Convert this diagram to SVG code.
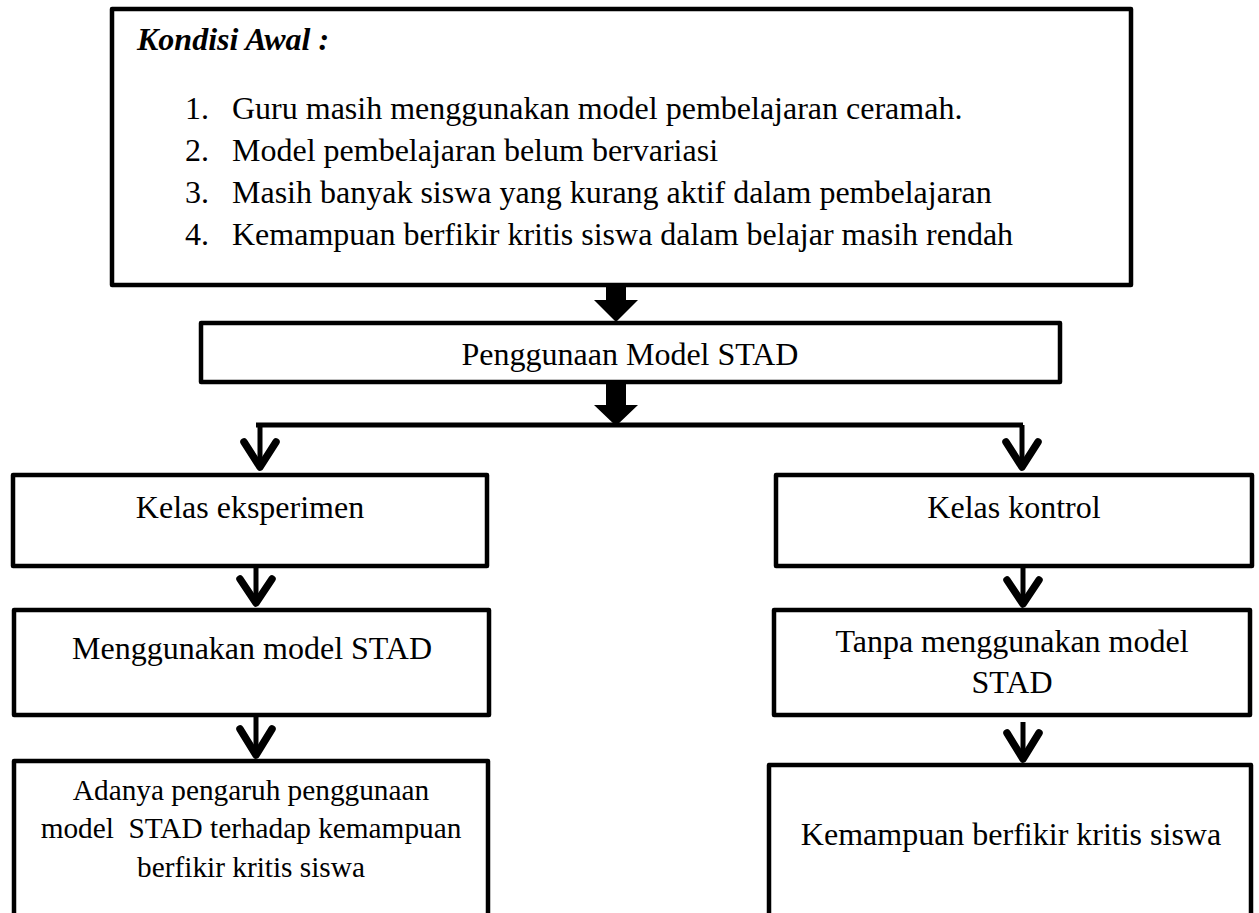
<svg xmlns="http://www.w3.org/2000/svg" width="1259" height="913" viewBox="0 0 1259 913">
<style>
.box{fill:#fff;stroke:#000;stroke-width:4.5;stroke-linejoin:round}
.t{font-family:"Liberation Serif","Times New Roman",serif;font-size:32px;fill:#000}
.s{font-size:29.3px}
.c{text-anchor:middle}
.h{font-weight:bold;font-style:italic}
.ln{stroke:#000;stroke-width:5;fill:none}
.hd{stroke:#000;stroke-width:7.5;fill:none;stroke-linecap:round;stroke-linejoin:round}
.blk{fill:#000}
</style>
<rect width="1259" height="913" fill="#fff"/>
<g id="kondisi-awal">
<rect class="box" x="112" y="9" width="1019" height="276"/>
<text class="t h" x="137" y="50">Kondisi Awal :</text>
<text class="t" x="185" y="119">1.</text>
<text class="t" x="232" y="119">Guru masih menggunakan model pembelajaran ceramah.</text>
<text class="t" x="185" y="161">2.</text>
<text class="t" x="232" y="161">Model pembelajaran belum bervariasi</text>
<text class="t" x="185" y="203">3.</text>
<text class="t" x="232" y="203">Masih banyak siswa yang kurang aktif dalam pembelajaran</text>
<text class="t" x="185" y="245">4.</text>
<text class="t" x="232" y="245">Kemampuan berfikir kritis siswa dalam belajar masih rendah</text>
</g>
<g id="penggunaan">
<rect class="box" x="201" y="323" width="859" height="59"/>
<text class="t c" x="630" y="365">Penggunaan Model STAD</text>
</g>
<g id="kelas-eksperimen">
<rect class="box" x="13" y="475" width="474" height="91"/>
<text class="t c" x="250" y="518">Kelas eksperimen</text>
</g>
<g id="kelas-kontrol">
<rect class="box" x="776" y="475" width="476" height="91"/>
<text class="t c" x="1014" y="518">Kelas kontrol</text>
</g>
<g id="menggunakan">
<rect class="box" x="14" y="610" width="475" height="105"/>
<text class="t c" x="252" y="659">Menggunakan model STAD</text>
</g>
<g id="tanpa">
<rect class="box" x="774" y="610" width="476" height="105"/>
<text class="t c" x="1012" y="652">Tanpa menggunakan model</text>
<text class="t c" x="1012" y="693">STAD</text>
</g>
<g id="hasil-eksperimen">
<rect class="box" x="14" y="761" width="474" height="200"/>
<text class="t s c" x="251" y="800">Adanya pengaruh penggunaan</text>
<text class="t s c" x="251" y="838" style="white-space:pre">model  STAD terhadap kemampuan</text>
<text class="t s c" x="251" y="877">berfikir kritis siswa</text>
</g>
<g id="hasil-kontrol">
<rect class="box" x="769" y="765" width="482" height="200"/>
<text class="t c" x="1011" y="845">Kemampuan berfikir kritis siswa</text>
</g>
<g id="connectors">
<polygon class="blk" points="606,285 626,285 626,300 638,300 616,322 594,300 606,300"/>
<polygon class="blk" points="606,382 626,382 626,405 638,405 616,426 594,405 606,405"/>
<line class="ln" x1="256" y1="425" x2="1023" y2="425"/>
<line class="ln" x1="260" y1="425" x2="260" y2="464"/>
<polyline class="hd" points="244,442 260,467 276,442"/>
<line class="ln" x1="1022" y1="425" x2="1022" y2="464"/>
<polyline class="hd" points="1006,442 1022,467 1038,442"/>
<line class="ln" x1="256" y1="566" x2="256" y2="600"/>
<polyline class="hd" points="240,579 256,603 272,579"/>
<line class="ln" x1="1023" y1="566" x2="1023" y2="601"/>
<polyline class="hd" points="1007,580 1023,604 1039,580"/>
<line class="ln" x1="256" y1="716" x2="256" y2="752"/>
<polyline class="hd" points="240,729 256,755 272,729"/>
<line class="ln" x1="1023" y1="722" x2="1023" y2="756"/>
<polyline class="hd" points="1007,733 1023,759 1039,733"/>
</g>
</svg>
